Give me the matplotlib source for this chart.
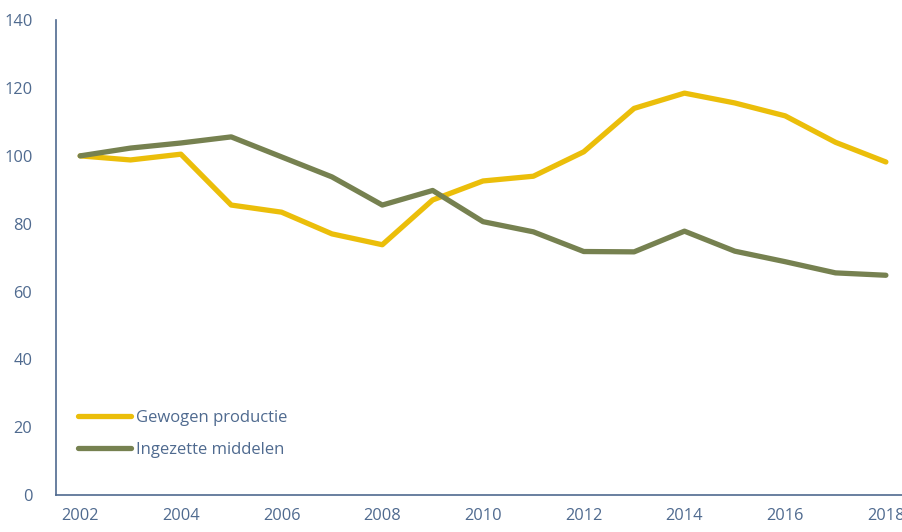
"""Gewogen productie vs ingezette middelen (index 2002 = 100)."""

import matplotlib
matplotlib.use("Agg")
import matplotlib.pyplot as plt

years = list(range(2002, 2019))
gewogen_productie = [100, 98.8, 100.5, 85.5, 83.4, 77.0, 73.8, 87.0, 92.6, 94.0,
                     101.2, 114.0, 118.5, 115.6, 111.8, 104.0, 98.2]
ingezette_middelen = [100, 102.3, 103.8, 105.6, 99.7, 93.8, 85.5, 89.8, 80.6, 77.6,
                      71.8, 71.7, 77.8, 71.9, 68.8, 65.5, 64.8]
series_labels = ["Gewogen productie", "Ingezette middelen"]

TEXT = "#4f6a8f"
YELLOW = "#ebbe0a"
GREEN = "#768150"

plt.rcParams["font.family"] = ["Open Sans", "DejaVu Sans"]

fig = plt.figure(figsize=(9.03, 5.32), dpi=100)
ax = fig.add_axes([0.062, 0.0695, 0.938, 0.8925])

ax.plot(years, gewogen_productie, color=YELLOW, lw=3.8, solid_capstyle="round",
        solid_joinstyle="round", label=series_labels[0])
ax.plot(years, ingezette_middelen, color=GREEN, lw=3.8, solid_capstyle="round",
        solid_joinstyle="round", label=series_labels[1])

ax.set_xlim(2001.52, 2018.34)
ax.set_ylim(0, 140)
ax.set_xticks(range(2002, 2019, 2))
ax.set_yticks(range(0, 141, 20))

for side in ("top", "right"):
    ax.spines[side].set_visible(False)
for side in ("left", "bottom"):
    ax.spines[side].set_color(TEXT)
    ax.spines[side].set_linewidth(1.2)

ax.tick_params(axis="both", length=0, colors=TEXT, labelsize=11.8)
ax.tick_params(axis="y", pad=17)
ax.tick_params(axis="x", pad=9)

leg = ax.legend(loc="lower left", bbox_to_anchor=(0.008, 0.046), frameon=False,
                handlelength=3.2, handletextpad=0.3, labelspacing=0.98, fontsize=12)
for txt in leg.get_texts():
    txt.set_color(TEXT)

fig.savefig("out.png", dpi=100)
